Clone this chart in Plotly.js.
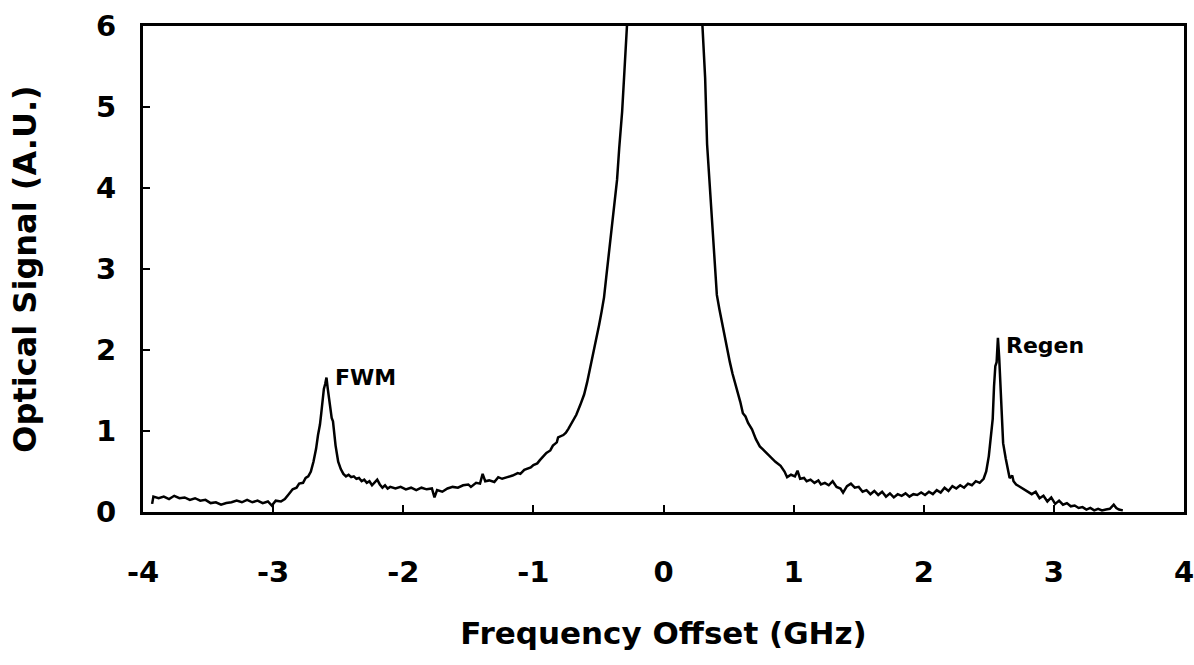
<!DOCTYPE html>
<html>
<head>
<meta charset="utf-8">
<script src="https://cdn.plot.ly/plotly-3.0.1.min.js"></script>
<style>html,body{margin:0;padding:0;background:#fff;}#chart{width:1194px;height:665px;}</style>
</head>
<body>
<div id="chart"></div>
<script>
// Frequency offset (GHz)
const frequencyGHz = [
  -3.93,-3.92,-3.88,-3.84,-3.80,-3.76,-3.72,-3.68,-3.64,-3.60,-3.56,-3.52,-3.48,-3.44,-3.40,-3.36,-3.32,-3.28,-3.24,-3.20,
  -3.16,-3.12,-3.08,-3.04,-3.01,-2.98,-2.94,-2.91,-2.88,-2.85,-2.82,-2.80,-2.77,-2.75,-2.73,-2.71,-2.69,-2.67,-2.655,-2.64,
  -2.63,-2.62,-2.61,-2.60,-2.59,-2.58,-2.57,-2.56,-2.55,-2.54,-2.53,-2.52,-2.51,-2.50,-2.48,-2.46,-2.44,-2.42,-2.40,-2.38,
  -2.36,-2.34,-2.32,-2.30,-2.28,-2.26,-2.24,-2.22,-2.20,-2.18,-2.16,-2.14,-2.12,-2.10,-2.06,-2.02,-1.98,-1.94,-1.90,-1.86,
  -1.82,-1.78,-1.76,-1.74,-1.70,-1.66,-1.62,-1.58,-1.54,-1.50,-1.48,-1.44,-1.41,-1.39,-1.37,-1.34,-1.30,-1.27,-1.24,-1.20,
  -1.16,-1.12,-1.10,-1.07,-1.05,-1.02,-1.00,-0.97,-0.95,-0.92,-0.90,-0.87,-0.85,-0.82,-0.81,-0.77,-0.75,-0.73,-0.70,-0.67,
  -0.64,-0.61,-0.587,-0.56,-0.54,-0.52,-0.495,-0.475,-0.457,-0.44,-0.42,-0.395,-0.375,-0.357,-0.34,-0.318,-0.30,-0.28,-0.26,
  0.0,
  0.28,0.30,0.32,0.335,0.36,0.38,0.41,0.43,0.45,0.47,0.49,0.51,0.53,0.55,0.57,0.59,0.61,0.63,0.65,0.68,
  0.71,0.74,0.76,0.79,0.82,0.86,0.90,0.93,0.95,0.98,1.01,1.03,1.05,1.08,1.10,1.13,1.16,1.19,1.21,1.24,
  1.27,1.30,1.33,1.36,1.38,1.41,1.44,1.47,1.50,1.53,1.56,1.59,1.62,1.65,1.68,1.71,1.74,1.77,1.80,1.83,
  1.86,1.89,1.92,1.95,1.98,2.01,2.04,2.07,2.10,2.13,2.16,2.19,2.22,2.25,2.28,2.31,2.34,2.37,2.40,2.43,
  2.46,2.48,2.50,2.52,2.53,2.54,2.55,2.56,2.57,2.58,2.59,2.60,2.61,2.63,2.65,2.66,2.68,2.69,2.71,2.74,
  2.77,2.80,2.83,2.86,2.89,2.92,2.95,2.98,3.01,3.04,3.07,3.10,3.13,3.16,3.19,3.22,3.25,3.28,3.31,3.34,
  3.37,3.40,3.43,3.46,3.48,3.50,3.53
];
// Optical signal (A.U.)
const opticalSignal = [
  0.10,0.19,0.17,0.19,0.16,0.20,0.17,0.18,0.15,0.17,0.14,0.15,0.11,0.12,0.09,0.11,0.12,0.14,0.12,0.15,
  0.12,0.14,0.11,0.13,0.08,0.14,0.13,0.16,0.22,0.28,0.30,0.35,0.36,0.42,0.44,0.50,0.62,0.78,0.95,1.08,
  1.22,1.38,1.52,1.58,1.66,1.52,1.40,1.28,1.16,1.12,0.95,0.82,0.72,0.62,0.53,0.47,0.44,0.46,0.43,0.44,
  0.41,0.42,0.38,0.40,0.36,0.38,0.33,0.37,0.40,0.34,0.30,0.33,0.29,0.31,0.29,0.31,0.28,0.30,0.27,0.30,
  0.28,0.29,0.18,0.27,0.25,0.29,0.31,0.30,0.33,0.34,0.31,0.36,0.35,0.47,0.38,0.39,0.37,0.43,0.41,0.43,
  0.45,0.48,0.47,0.52,0.53,0.55,0.58,0.60,0.64,0.70,0.73,0.76,0.82,0.86,0.92,0.95,0.98,1.03,1.11,1.20,
  1.32,1.45,1.60,1.80,1.98,2.12,2.31,2.48,2.65,2.90,3.18,3.49,3.80,4.10,4.50,4.94,5.45,5.96,6.60,
  9.00,
  6.60,5.98,5.36,4.54,3.93,3.31,2.68,2.50,2.33,2.15,2.00,1.85,1.71,1.60,1.47,1.36,1.22,1.18,1.10,1.02,
  0.90,0.81,0.78,0.73,0.69,0.62,0.57,0.50,0.43,0.46,0.44,0.51,0.41,0.42,0.38,0.40,0.36,0.39,0.34,0.36,
  0.33,0.38,0.31,0.29,0.24,0.32,0.35,0.30,0.31,0.25,0.27,0.22,0.26,0.21,0.25,0.19,0.23,0.18,0.22,0.20,
  0.23,0.19,0.22,0.21,0.24,0.21,0.25,0.22,0.27,0.24,0.30,0.26,0.32,0.29,0.33,0.30,0.35,0.33,0.38,0.36,
  0.41,0.50,0.69,0.95,1.15,1.55,1.80,1.85,2.15,1.90,1.55,1.05,0.85,0.66,0.50,0.42,0.45,0.38,0.34,0.31,
  0.28,0.24,0.22,0.25,0.17,0.20,0.13,0.18,0.10,0.14,0.09,0.11,0.07,0.08,0.05,0.06,0.03,0.05,0.02,0.04,
  0.02,0.03,0.04,0.09,0.05,0.03,0.02
];
const xTickValues = [-4,-3,-2,-1,0,1,2,3,4];
const yTickValues = [0,1,2,3,4,5,6];
const peakLabels = ["FWM","Regen"];
const peakLabelX = [-2.54, 2.62];
const peakLabelY = [1.66, 2.06];

const fontFamily = '"DejaVu Sans", "Liberation Sans", sans-serif';

const trace = {
  x: frequencyGHz,
  y: opticalSignal,
  type: 'scatter',
  mode: 'lines',
  line: {color: '#000', width: 2.5},
  hoverinfo: 'x+y'
};

const annotations = peakLabels.map((t, i) => ({
  x: peakLabelX[i], y: peakLabelY[i], xref: 'x', yref: 'y',
  text: t, showarrow: false, xanchor: 'left', yanchor: 'middle',
  font: {family: fontFamily, size: 22, color: '#000', weight: 'bold'}
}));

const layout = {
  width: 1194, height: 665,
  margin: {l: 143, r: 10, t: 26, b: 153},
  paper_bgcolor: '#fff', plot_bgcolor: '#fff',
  showlegend: false,
  xaxis: {
    range: [-4, 4], tickvals: xTickValues, ticktext: xTickValues.map(String),
    ticks: 'inside', ticklen: 7, tickwidth: 2, tickcolor: '#000',
    showline: true, linewidth: 3, linecolor: '#000', mirror: true,
    showgrid: false, zeroline: false,
    ticklabelstandoff: 32, ticklabeloverflow: 'allow',
    tickfont: {family: fontFamily, size: 29, color: '#000', weight: 'bold'},
    title: {text: 'Frequency Offset (GHz)', standoff: 35,
            font: {family: fontFamily, size: 31, color: '#000', weight: 'bold'}}
  },
  yaxis: {
    range: [0, 6], tickvals: yTickValues, ticktext: yTickValues.map(String),
    ticks: 'inside', ticklen: 7, tickwidth: 2, tickcolor: '#000',
    showline: true, linewidth: 3, linecolor: '#000', mirror: true,
    showgrid: false, zeroline: false,
    ticklabelstandoff: 18,
    tickfont: {family: fontFamily, size: 29, color: '#000', weight: 'bold'},
    title: {text: 'Optical Signal (A.U.)', standoff: 50,
            font: {family: fontFamily, size: 32, color: '#000', weight: 'bold'}}
  },
  annotations: annotations
};

Plotly.newPlot('chart', [trace], layout, {displayModeBar: false, staticPlot: true});
</script>
</body>
</html>
